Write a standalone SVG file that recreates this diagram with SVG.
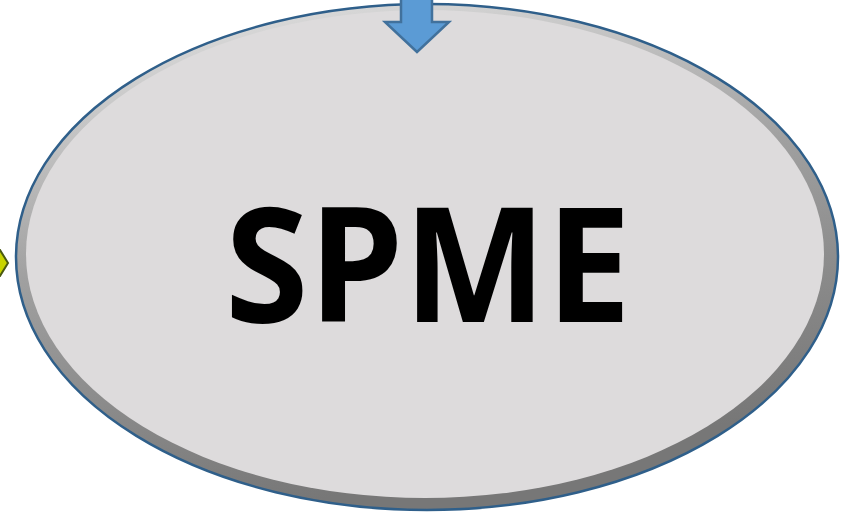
<svg xmlns="http://www.w3.org/2000/svg" width="841" height="519" viewBox="0 0 841 519">
<defs>
<linearGradient id="bevel" x1="0" y1="0" x2="0.3" y2="1">
<stop offset="0" stop-color="#e8e8e8"/>
<stop offset="0.5" stop-color="#a0a0a0"/>
<stop offset="1" stop-color="#777777"/>
</linearGradient>
<style>
.arrow-blue{fill:#5b9bd5;stroke:#41719c;stroke-width:2.5;stroke-linejoin:miter}
.arrow-yellow{fill:#c8d400;stroke:#4a5a10;stroke-width:2}
.label{font-family:"Open Sans","Noto Sans","Liberation Sans",sans-serif;font-weight:bold;fill:#000}
</style>
</defs>
<rect width="841" height="519" fill="#ffffff"/>
<g id="connectors">
<polygon class="arrow-yellow" points="-10,250 0,250 8,263 0,276 -10,276"/>
</g>
<g id="spme">
<ellipse cx="427" cy="257" rx="411" ry="253" fill="url(#bevel)" stroke="#2f5f8a" stroke-width="2.5"/>
<ellipse cx="425" cy="254" rx="399" ry="244" fill="#dddbdc"/>
<text class="label" x="428" y="322" font-size="160" text-anchor="middle" textLength="406" lengthAdjust="spacingAndGlyphs">SPME</text>
</g>
<g id="top-arrow">
<polygon class="arrow-blue" points="401,-3 432,-3 432,22 449,22 417,52 385,22 401,22"/>
</g>
</svg>
